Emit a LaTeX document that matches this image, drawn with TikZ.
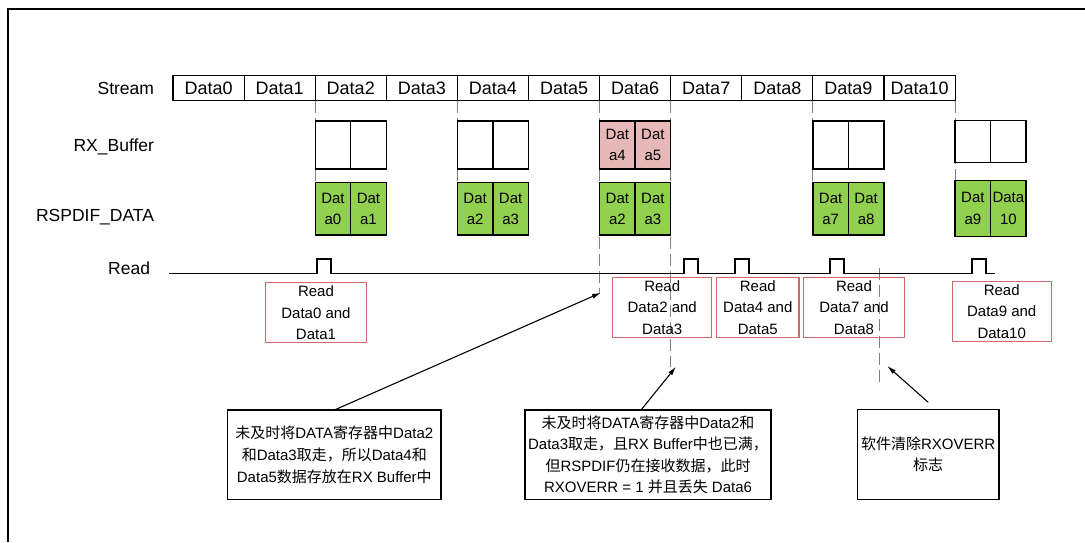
\documentclass[tikz,border=0pt]{standalone}
\usepackage{fontspec}
\setmainfont{Liberation Sans}
\newfontfamily\cjk{Noto Sans CJK SC}
\newcommand{\zh}[1]{{\cjk #1}}
\usepackage{xcolor}
\usetikzlibrary{arrows.meta,backgrounds}
\definecolor{cellgreen}{RGB}{146,208,80}
\definecolor{cellpink}{RGB}{230,185,184}
\definecolor{readred}{RGB}{205,105,102}

\begin{document}
\begin{tikzpicture}[x=1pt, y=-1pt,
    every node/.style={font=\fontsize{15}{21.6}\selectfont, inner sep=0pt, outer sep=0pt},
    rowlabel/.style={anchor=east, font=\fontsize{17.5}{20}\selectfont},
    streambox/.style={draw, line width=1.1pt, minimum width=71.1pt, minimum height=25.7pt, font=\fontsize{18}{20}\selectfont},
    cell/.style={draw, fill=white, line width=1.4pt, minimum width=35.5pt, minimum height=48pt, align=center},
    greencell/.style={cell, fill=cellgreen, minimum height=52.3pt},
    readbox/.style={draw=readred, line width=1.1pt, minimum height=60pt, align=center},
    note/.style={draw, line width=1.4pt, minimum height=89.3pt, align=center},
    guide/.style={gray, line width=1pt, dash pattern=on 12pt off 5pt},
    pointer/.style={-{Latex[length=9pt,width=5pt]}, line width=1.1pt}]
        \useasboundingbox (0,0) rectangle (1085,542);
        % Frame
        \draw[line width=2pt] (8,542) -- (8,9) -- (1085,9);
        % Row labels
        \node[rowlabel] (lstream) at (154,88) {Stream};
        \node[rowlabel] (lbuf) at (154,147) {RX\_Buffer};
        \node[rowlabel] (lrsp) at (154,217) {RSPDIF\_DATA};
        \node[rowlabel] (lread) at (150,268) {Read};
        % Stream
        \foreach \i in {0,...,10}
            \node[streambox] (s\i) at ({208.55+71.1*\i},88) {Data\i};
        % RX_Buffer
        \foreach \c in {2,4,9} {
            \node[cell] (rx\c-l) at ({173+71.1*\c+17.75},145) {};
            \node[cell] (rx\c-r) at ({173+71.1*\c+53.25},145) {};
        }
        \node[cell, fill=cellpink] (rx6-l) at ({173+71.1*6+17.75},145) {Dat\\a4};
        \node[cell, fill=cellpink] (rx6-r) at ({173+71.1*6+53.25},145) {Dat\\a5};
        \node[cell, minimum height=42pt] (rx11-l) at ({173+71.1*11+17.75},141.7) {};
        \node[cell, minimum height=42pt] (rx11-r) at ({173+71.1*11+53.25},141.7) {};
        % RSPDIF_DATA
        \foreach \c/\lt/\rt in {2/a0/a1, 4/a2/a3, 6/a2/a3, 9/a7/a8} {
            \node[greencell] (sp\c-l) at ({173+71.1*\c+17.75},208.9) {Dat\\\lt};
            \node[greencell] (sp\c-r) at ({173+71.1*\c+53.25},208.9) {Dat\\\rt};
        }
        \node[greencell, minimum height=56pt] (sp11-l) at ({173+71.1*11+17.75},208.7) {Dat\\a9};
        \node[greencell, minimum height=56pt] (sp11-r) at ({173+71.1*11+53.25},208.7) {Data\\10};
        % Read
        \draw[line width=1.8pt] (169,273.5)
            foreach \p in {316.7,684,735,830,971.7} { -- (\p,273.5) -- (\p,259) -- (\p+14,259) -- (\p+14,273.5) }
            -- (995,273.5);
        \node[readbox, minimum width=101.4pt] (rd1) at (316,312.7) {Read\\Data0 and\\Data1};
        \node[readbox, minimum width=99pt] (rd2) at (662.2,307.3) {Read\\Data2 and\\Data3};
        \node[readbox, minimum width=82.3pt] (rd3) at (757.8,307.3) {Read\\Data4 and\\Data5};
        \node[readbox, minimum width=101.4pt] (rd4) at (854,307.3) {Read\\Data7 and\\Data8};
        \node[readbox, minimum width=98.7pt] (rd5) at (1001.7,311.3) {Read\\Data9 and\\Data10};
        % Notes
        \node[note, minimum width=213.3pt] (n1) at (334.3,454.7)
            {\zh{未及时将}DATA\zh{寄存器中}Data2\\\zh{和}Data3\zh{取走，所以}Data4\zh{和}\\Data5\zh{数据存放在}RX Buffer\zh{中}};
        \node[note, minimum width=246pt] (n2) at (648,454.7)
            {\zh{未及时将}DATA\zh{寄存器中}Data2\zh{和}\\Data3\zh{取走，且}RX Buffer\zh{中也已满，}\\\zh{但}RSPDIF\zh{仍在接收数据，此时}\\RXOVERR = 1 \zh{并且丢失} Data6};
        \node[note, minimum width=141.7pt, minimum height=90pt] (n3) at (928.2,454.3)
            {\zh{软件清除}RXOVERR\\\zh{标志}};
        % Pointers
        \coordinate (tip1) at (601,292.7);
        \coordinate (tip2) at (676,366.7);
        \coordinate (tip3) at (887.3,366);
        \draw[pointer] (n1.north) -- (tip1);
        \draw[pointer] ([xshift=-7pt]n2.north) -- (tip2);
        \draw[pointer] ([yshift=7pt]n3.north) -- (tip3);
        % Guides
        \begin{scope}[on background layer]
            \draw[guide] (s2.south west) -- (sp2-l.north west);
            \draw[guide] (s4.south west) -- (sp4-l.north west);
            \draw[guide] (s6.south west) -- (s6.south west |- tip1);
            \draw[guide] (s6.south east) -- (s6.south east |- tip2);
            \draw[guide] (s9.south west) -- (sp9-l.north west);
            \draw[guide] (s10.south east) -- (sp11-l.north west);
            \draw[guide] (879,268) -- (879,385);
        \end{scope}
    \end{tikzpicture}
\end{document}
